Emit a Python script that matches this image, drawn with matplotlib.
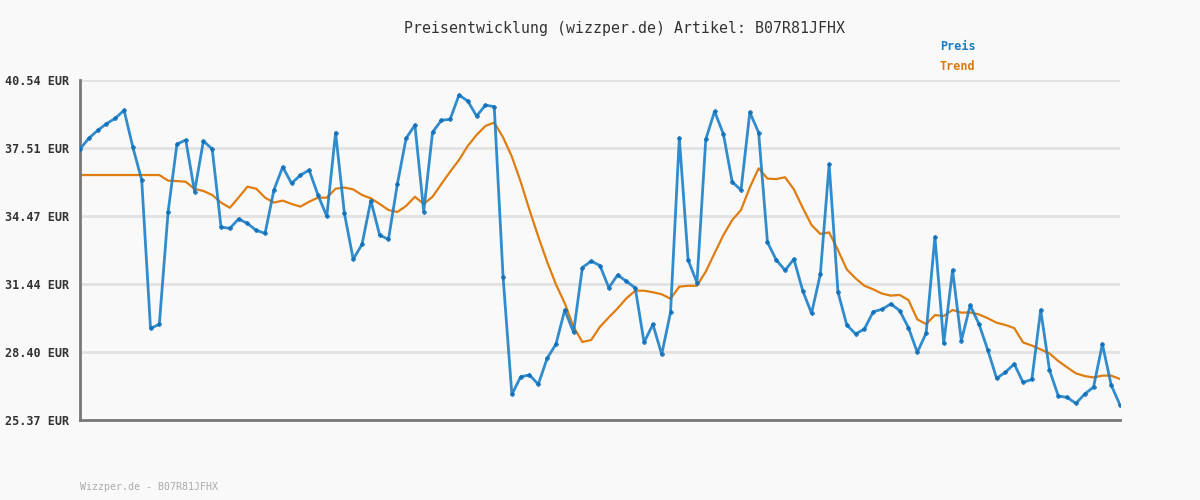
import matplotlib
matplotlib.use("Agg")
import matplotlib.pyplot as plt

title = "Preisentwicklung (wizzper.de) Artikel: B07R81JFHX"
footer = "Wizzper.de - B07R81JFHX"
y_ticks = [25.37, 28.40, 31.44, 34.47, 37.51, 40.54]
y_labels = ["25.37 EUR", "28.40 EUR", "31.44 EUR", "34.47 EUR", "37.51 EUR", "40.54 EUR"]

preis = [37.46, 37.94, 38.29, 38.59, 38.83, 39.19, 37.54, 36.08, 29.46, 29.64,
         34.67, 37.68, 37.86, 35.56, 37.82, 37.46, 33.98, 33.92, 34.34, 34.14,
         33.83, 33.70, 35.63, 36.66, 35.93, 36.29, 36.52, 35.41, 34.46, 38.19,
         34.59, 32.54, 33.21, 35.16, 33.62, 33.43, 35.88, 37.94, 38.53, 34.67,
         38.21, 38.74, 38.79, 39.87, 39.60, 38.93, 39.42, 39.35, 31.77, 26.51,
         27.30, 27.38, 26.96, 28.12, 28.75, 30.28, 29.28, 32.17, 32.46, 32.26,
         31.27, 31.84, 31.56, 31.26, 28.83, 29.64, 28.30, 30.17, 37.95, 32.51,
         31.50, 37.89, 39.14, 38.13, 35.99, 35.63, 39.10, 38.19, 33.30, 32.51,
         32.05, 32.55, 31.14, 30.13, 31.87, 36.78, 31.08, 29.61, 29.21, 29.43,
         30.20, 30.31, 30.55, 30.25, 29.49, 28.39, 29.24, 33.54, 28.79, 32.06,
         28.91, 30.49, 29.65, 28.49, 27.23, 27.50, 27.87, 27.05, 27.18, 30.28,
         27.60, 26.44, 26.38, 26.11, 26.53, 26.84, 28.76, 26.93, 26.04]

trend = [36.30, 36.30, 36.30, 36.30, 36.30, 36.30, 36.30, 36.30, 36.30, 36.30,
         36.05, 36.03, 36.00, 35.68, 35.59, 35.41, 35.07, 34.84, 35.30, 35.78,
         35.69, 35.29, 35.07, 35.16, 35.01, 34.89, 35.11, 35.29, 35.29, 35.69,
         35.74, 35.66, 35.41, 35.26, 35.01, 34.74, 34.65, 34.92, 35.33, 35.01,
         35.33, 35.90, 36.45, 36.97, 37.60, 38.09, 38.49, 38.64, 37.98, 37.12,
         36.00, 34.74, 33.55, 32.43, 31.42, 30.58, 29.53, 28.85, 28.94, 29.53,
         29.95, 30.35, 30.80, 31.14, 31.14, 31.07, 30.98, 30.78, 31.32, 31.36,
         31.36, 31.99, 32.81, 33.62, 34.29, 34.74, 35.75, 36.60, 36.14, 36.12,
         36.20, 35.66, 34.84, 34.07, 33.67, 33.74, 32.95, 32.09, 31.69, 31.36,
         31.20, 31.01, 30.92, 30.95, 30.72, 29.86, 29.65, 30.05, 30.01, 30.28,
         30.16, 30.17, 30.08, 29.91, 29.71, 29.61, 29.47, 28.83, 28.69, 28.52,
         28.34, 28.00, 27.72, 27.45, 27.33, 27.27, 27.35, 27.35, 27.20]

bg = "#f9f9f9"
blue = "#1a80c8"
blue_dark = "#0b6cb8"
orange = "#e07d10"
mono = ["DejaVu Sans Mono"]

fig = plt.figure(figsize=(12, 5), dpi=100, facecolor=bg)
ax = fig.add_axes([80/1200, 1 - 420/500, 1040/1200, 340/500])
ax.set_facecolor(bg)

x = list(range(len(preis)))
xt = list(range(len(trend)))

ax.set_xlim(0, len(preis) - 1)
ax.set_ylim(y_ticks[0], y_ticks[-1])

for yv in y_ticks[1:]:
    ax.axhline(yv, color="#e2e2e2", lw=2, zorder=0)

ax.plot(xt, trend, color=orange, lw=1.6, zorder=2, solid_joinstyle="round")
ax.plot(x, preis, color=blue, lw=2.0, zorder=3, alpha=0.9,
        marker="P", markersize=3.2, markerfacecolor=blue_dark,
        markeredgecolor=blue_dark, markeredgewidth=0.3)

ax.set_yticks(y_ticks)
ax.set_yticklabels(y_labels, family=mono, fontsize=8.5, fontweight="bold", color="#333333")
ax.set_xticks([])
ax.tick_params(axis="y", length=0, pad=8)

for s in ["top", "right"]:
    ax.spines[s].set_visible(False)
for s in ["left", "bottom"]:
    ax.spines[s].set_color("#777777")
    ax.spines[s].set_linewidth(2)

fig.text(624/1200, 1 - 28/500, title, ha="center", va="center",
         family=mono, fontsize=10.7, color="#333333")
fig.text(940/1200, 1 - 47/500, "Preis", ha="left", va="center",
         family=mono, fontsize=8.5, fontweight="bold", color="#1a7dc0")
fig.text(940/1200, 1 - 67/500, "Trend", ha="left", va="center",
         family=mono, fontsize=8.5, fontweight="bold", color="#d97a0a")
fig.text(80/1200, 1 - 487/500, footer, ha="left", va="center",
         family=mono, fontsize=7.1, color="#aaaaaa")

fig.savefig("out.png", dpi=100, facecolor=bg)
